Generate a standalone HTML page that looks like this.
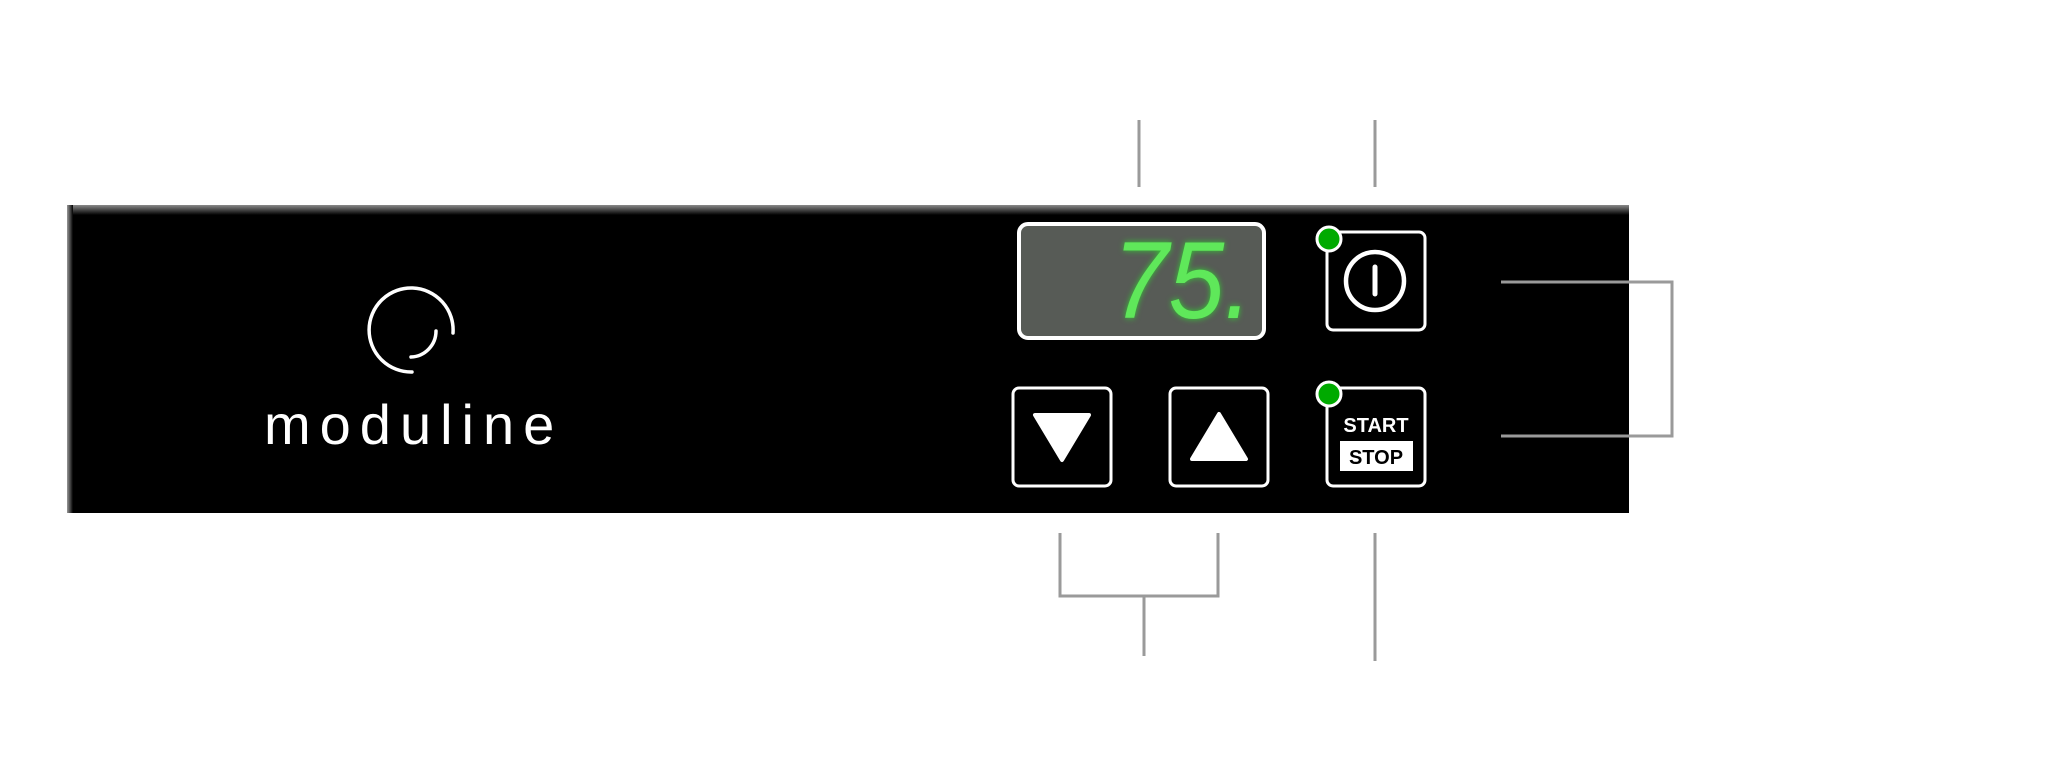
<!DOCTYPE html>
<html><head><style>
html,body{margin:0;padding:0;background:#fff;}
body{width:2048px;height:783px;position:relative;overflow:hidden;font-family:"Liberation Sans",sans-serif;}
</style></head><body>
<svg width="2048" height="783" style="position:absolute;left:0;top:0">
<defs>
<linearGradient id="tg" x1="0" y1="0" x2="0" y2="1">
<stop offset="0" stop-color="#8a8a8a"/><stop offset="1" stop-color="#000"/></linearGradient>
<linearGradient id="lg" x1="0" y1="0" x2="1" y2="0">
<stop offset="0" stop-color="#999"/><stop offset="1" stop-color="#000"/></linearGradient>
</defs>
<rect x="67" y="205" width="1562" height="308" fill="#000"/>
<rect x="67" y="205" width="1562" height="10" fill="url(#tg)"/>
<rect x="67" y="205" width="6" height="308" fill="url(#lg)"/>
<path d="M453 333 A42 42 0 1 0 412 372" fill="none" stroke="#fff" stroke-width="3.5" stroke-linecap="round"/>
<path d="M436 331 A26 26 0 0 1 411 357" fill="none" stroke="#fff" stroke-width="3.5" stroke-linecap="round"/>
<text x="264" y="444" font-size="56" fill="#fff" letter-spacing="9" font-family="Liberation Sans, sans-serif">moduline</text>
<rect x="1019" y="224" width="245" height="114" rx="9" fill="#575b56" stroke="#fff" stroke-width="4"/>
<text x="0" y="0" font-size="100" fill="#5fe85a" text-anchor="end" font-style="italic" font-family="Liberation Sans, sans-serif" transform="translate(1252,318) scale(1,1.1)" style="filter:drop-shadow(0 0 3px #3c3)">75.</text>
<g fill="#000" stroke="#fff" stroke-width="3">
<rect x="1327" y="232" width="98" height="98" rx="6"/>
<rect x="1013" y="388" width="98" height="98" rx="6"/>
<rect x="1170" y="388" width="98" height="98" rx="6"/>
<rect x="1327" y="388" width="98" height="98" rx="6"/>
</g>
<circle cx="1375" cy="281" r="29" fill="none" stroke="#fff" stroke-width="4.5"/>
<line x1="1375" y1="267" x2="1375" y2="294" stroke="#fff" stroke-width="5" stroke-linecap="round"/>
<polygon points="1035,415 1089,415 1062,460" fill="#fff" stroke="#fff" stroke-width="4" stroke-linejoin="round"/>
<polygon points="1219,414 1246,459 1192,459" fill="#fff" stroke="#fff" stroke-width="4" stroke-linejoin="round"/>
<text x="1376" y="432" font-size="20" font-weight="bold" fill="#fff" text-anchor="middle" font-family="Liberation Sans, sans-serif">START</text>
<rect x="1340" y="441" width="73" height="30" fill="#fff"/>
<text x="1376" y="464" font-size="20" font-weight="bold" fill="#000" text-anchor="middle" font-family="Liberation Sans, sans-serif">STOP</text>
<circle cx="1329" cy="239" r="12" fill="#0a0" stroke="#fff" stroke-width="3"/>
<circle cx="1329" cy="394" r="12" fill="#0a0" stroke="#fff" stroke-width="3"/>
<g stroke="#9a9a9a" stroke-width="3" fill="none">
<line x1="1139" y1="120" x2="1139" y2="187"/>
<line x1="1375" y1="120" x2="1375" y2="187"/>
<polyline points="1501,282 1672,282 1672,436 1501,436"/>
<polyline points="1060,533 1060,596 1218,596 1218,533"/>
<line x1="1144" y1="596" x2="1144" y2="656"/>
<line x1="1375" y1="533" x2="1375" y2="661"/>
</g>
</svg>
</body></html>
